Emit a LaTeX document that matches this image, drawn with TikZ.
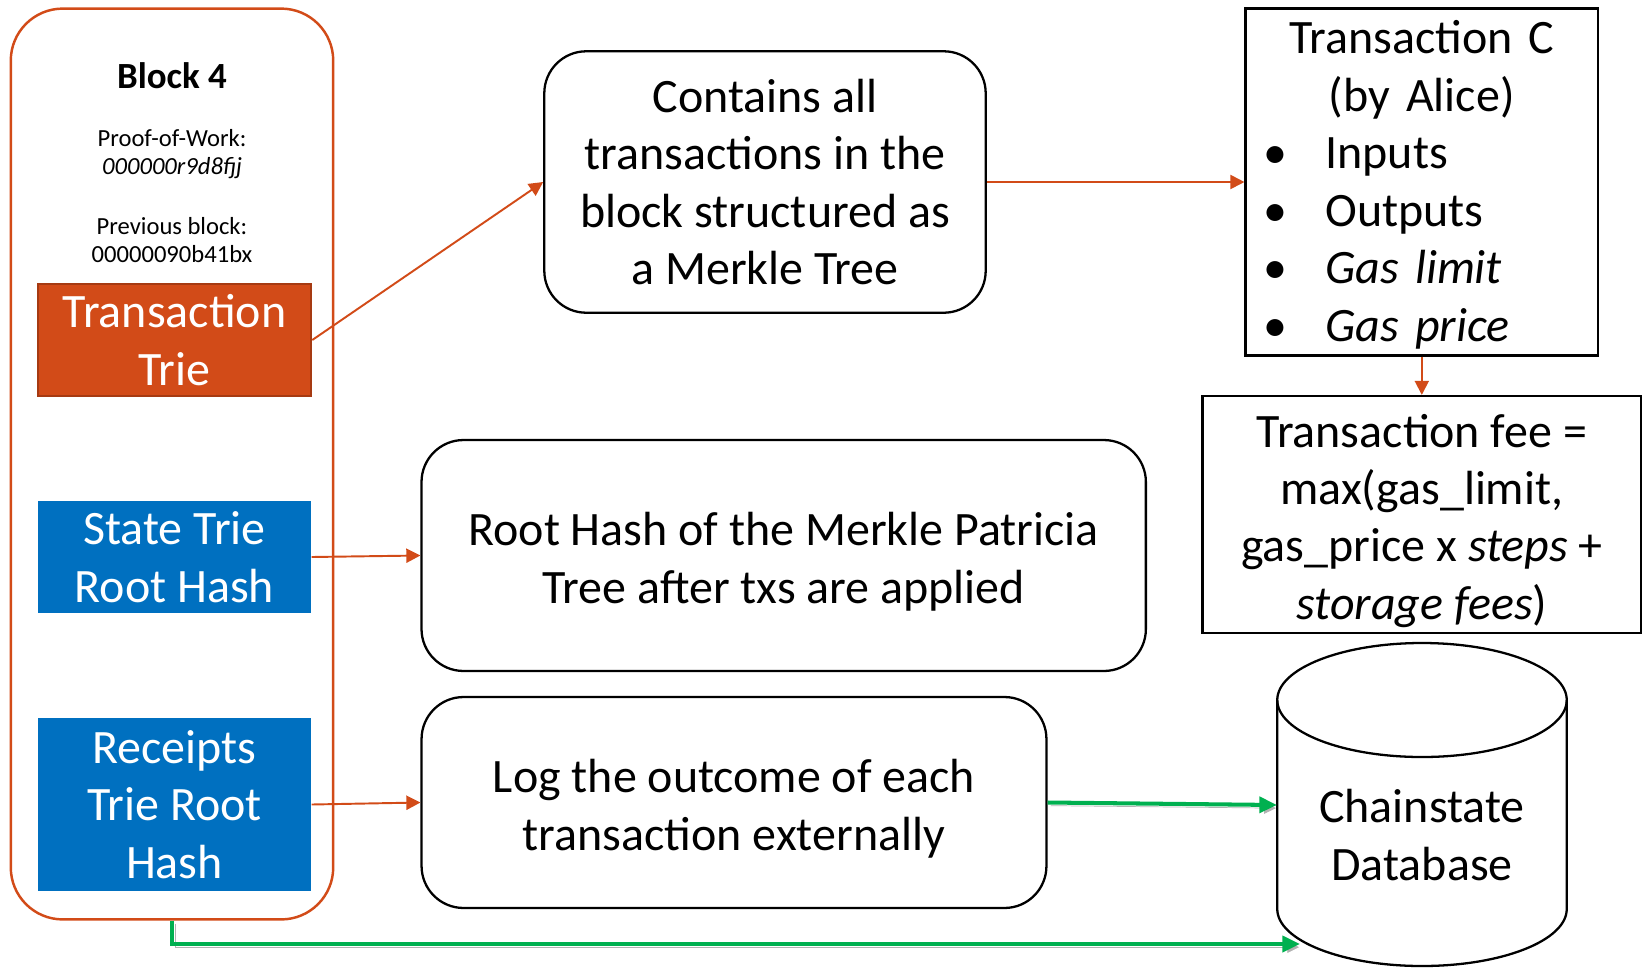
\documentclass[tikz,border=0pt]{standalone}
\usepackage{fontspec}
\setmainfont{Carlito}
\usetikzlibrary{arrows.meta}
\definecolor{ethorange}{HTML}{D24B18}
\definecolor{ethdark}{HTML}{A63A12}
\definecolor{ethblue}{HTML}{0070C0}
\definecolor{ethgreen}{HTML}{00B050}
\newcommand{\bigtxt}{\fontsize{27.3pt}{32.7pt}\selectfont}
\newcommand{\smalltxt}{\fontsize{14pt}{16pt}\selectfont}
\newcommand{\blt}{\hspace*{4pt}\makebox[35.1pt][l]{\textbullet}}
\newcommand{\dn}{\rule{0pt}{26pt}}
\begin{document}
\begin{tikzpicture}[x=0.02cm,y=-0.02cm,
    fieldbox/.style={minimum width=5.47cm,text=white,align=center,font=\bigtxt,inner sep=0pt},
    roundbox/.style={draw,line width=1.3pt,rounded corners=0.84cm,align=center,font=\bigtxt},
    sqbox/.style={draw,line width=1.3pt,align=center,font=\bigtxt,inner sep=0pt},
    oarrow/.style={ethorange,line width=1.1pt,->,>={Triangle[length=8pt,width=8pt]}},
    garrow/.style={ethgreen,line width=2.3pt,->,>={Triangle[length=10pt,width=9pt]},
        preaction={draw=black!30,transform canvas={xshift=1.8pt,yshift=-1.8pt}}}]
    \useasboundingbox (0,0) rectangle (1644,968);
    % ブロック
    \node[draw=ethorange,line width=1.4pt,rounded corners=1.04cm,minimum width=6.45cm,minimum height=18.22cm] (blk) at (172,464) {};
    \node[font=\fontsize{21pt}{24pt}\selectfont\bfseries] (blkname) at (172,75.5) {Block 4};
    \node[font=\smalltxt,align=center] (pow) at (172,154) {Proof-of-Work:\\\textit{000000r9d8fjj}};
    \node[font=\smalltxt,align=center] (prev) at (172,240) {Previous block:\\00000090b41bx};
    \node[fieldbox,fill=ethorange,draw=ethdark,line width=1.2pt,minimum height=2.24cm] (trie) at (174.5,340) {Transaction\\Trie};
    \node[fieldbox,fill=ethblue,minimum height=2.24cm] (state) at (174.5,557) {State Trie\\Root Hash};
    \node[fieldbox,fill=ethblue,minimum height=3.46cm] (rcpt) at (174.5,804.5) {Receipts\\Trie Root\\Hash};
    % 説明
    \node[roundbox,minimum width=8.83cm,minimum height=5.23cm] (merkle) at (765,182) {Contains all\\transactions in the\\block structured as\\a Merkle Tree};
    \node[roundbox,minimum width=14.49cm,minimum height=4.62cm] (root) at (783.7,555.5) {\dn Root Hash of the Merkle Patricia\\Tree after txs are applied};
    \node[roundbox,minimum width=12.5cm,minimum height=4.22cm] (log) at (734,802.5) {\dn Log the outcome of each\\transaction externally};
    \node[sqbox,minimum width=7.05cm,minimum height=6.94cm,text width=6.6cm,align=left] (txc) at (1421.8,182)
        {\centering\rule{0pt}{22pt}Transaction C\\(by Alice)\par\raggedright
        \blt Inputs\\\blt Outputs\\\blt \textit{Gas limit}\\\blt \textit{Gas price}};
    \node[sqbox,minimum width=8.77cm,minimum height=4.74cm] (fee) at (1421.8,514.5)
        {\dn Transaction fee =\\max(gas\_limit,\\gas\_price x \textit{steps} +\\\textit{storage fees})};
    % データベース
    \node[minimum width=5.79cm,minimum height=6.52cm,inner sep=0pt] (db) at (1422,805) {};
    \draw[line width=1.3pt] (1422,700) ellipse[x radius=144.75,y radius=57];
    \draw[line width=1.3pt] (1277.25,700) -- (1277.25,909) arc[start angle=180,end angle=0,x radius=144.75,y radius=57] -- (1566.75,700);
    \node[font=\bigtxt,align=center] (dbname) at (1422,829) {\dn Chainstate\\Database};
    \coordinate (dbin) at (1300,944);
    % 矢印
    \draw[oarrow] (trie.east) -- (merkle.west);
    \draw[oarrow] (merkle.east) -- (txc.west);
    \draw[oarrow] (txc.south) -- (fee.north);
    \draw[oarrow] (state.east) -- (root.west);
    \draw[oarrow] (rcpt.east) -- (log.west);
    \draw[garrow] (log.east) -- (db.west);
    \draw[garrow] (blk.south) |- (dbin);
\end{tikzpicture}
\end{document}
